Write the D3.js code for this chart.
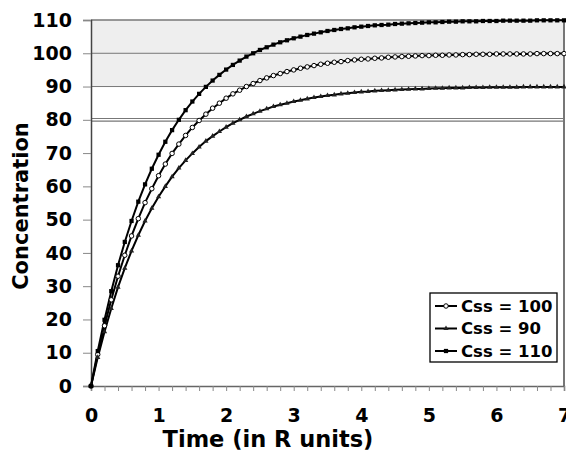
<!DOCTYPE html>
<html>
<head>
<meta charset="utf-8">
<script src="https://cdn.jsdelivr.net/npm/d3@7"></script>
<style>
  body { margin: 0; background: #fff; }
  svg { display: block; font-family: "DejaVu Sans", Verdana, sans-serif; font-weight: bold; }
</style>
</head>
<body>
<script>
const width = 566;
const height = 452;
const margin = { top: 20, right: 2, bottom: 66, left: 91 };
const innerWidth = width - margin.left - margin.right;
const innerHeight = height - margin.top - margin.bottom;

// time points (R units)
const times = [0, 0.1, 0.2, 0.3, 0.4, 0.5, 0.6, 0.7, 0.8, 0.9,
  1, 1.1, 1.2, 1.3, 1.4, 1.5, 1.6, 1.7, 1.8, 1.9,
  2, 2.1, 2.2, 2.3, 2.4, 2.5, 2.6, 2.7, 2.8, 2.9,
  3, 3.1, 3.2, 3.3, 3.4, 3.5, 3.6, 3.7, 3.8, 3.9,
  4, 4.1, 4.2, 4.3, 4.4, 4.5, 4.6, 4.7, 4.8, 4.9,
  5, 5.1, 5.2, 5.3, 5.4, 5.5, 5.6, 5.7, 5.8, 5.9,
  6, 6.1, 6.2, 6.3, 6.4, 6.5, 6.6, 6.7, 6.8, 6.9, 7];

const css100 = [0, 9.5, 18.1, 25.9, 33.0, 39.3, 45.1, 50.3, 55.1, 59.3,
  63.2, 66.7, 69.9, 72.7, 75.3, 77.7, 79.8, 81.7, 83.5, 85.0,
  86.5, 87.8, 88.9, 90.0, 90.9, 91.8, 92.6, 93.3, 93.9, 94.5,
  95.0, 95.5, 95.9, 96.3, 96.7, 97.0, 97.3, 97.5, 97.8, 98.0,
  98.2, 98.3, 98.5, 98.6, 98.8, 98.9, 99.0, 99.1, 99.2, 99.3,
  99.3, 99.4, 99.4, 99.5, 99.5, 99.6, 99.6, 99.7, 99.7, 99.7,
  99.8, 99.8, 99.8, 99.8, 99.8, 99.8, 99.9, 99.9, 99.9, 99.9, 99.9];

const css90 = [0, 8.6, 16.3, 23.3, 29.7, 35.4, 40.6, 45.3, 49.6, 53.4,
  56.9, 60.0, 62.9, 65.5, 67.8, 69.9, 71.8, 73.6, 75.1, 76.5,
  77.8, 79.0, 80.0, 81.0, 81.8, 82.6, 83.3, 84.0, 84.5, 85.0,
  85.5, 85.9, 86.3, 86.7, 87.0, 87.3, 87.5, 87.8, 88.0, 88.2,
  88.4, 88.5, 88.7, 88.8, 88.9, 89.0, 89.1, 89.2, 89.3, 89.3,
  89.4, 89.5, 89.5, 89.6, 89.6, 89.6, 89.7, 89.7, 89.7, 89.8,
  89.8, 89.8, 89.8, 89.8, 89.9, 89.9, 89.9, 89.9, 89.9, 89.9, 89.9];

const css110 = [0, 10.5, 19.9, 28.5, 36.3, 43.3, 49.6, 55.4, 60.6, 65.3,
  69.5, 73.4, 76.9, 80.0, 82.9, 85.5, 87.8, 89.9, 91.8, 93.5,
  95.1, 96.5, 97.8, 99.0, 100.0, 101.0, 101.8, 102.6, 103.3, 103.9,
  104.5, 105.0, 105.5, 105.9, 106.3, 106.7, 107.0, 107.3, 107.5, 107.8,
  108.0, 108.2, 108.4, 108.5, 108.6, 108.8, 108.9, 109.0, 109.1, 109.2,
  109.3, 109.3, 109.4, 109.5, 109.5, 109.6, 109.6, 109.6, 109.7, 109.7,
  109.7, 109.8, 109.8, 109.8, 109.8, 109.8, 109.9, 109.9, 109.9, 109.9, 109.9];

const seriesNames = ["Css = 100", "Css = 90", "Css = 110"];
const xTicks = [0, 1, 2, 3, 4, 5, 6, 7];
const yTicks = [0, 10, 20, 30, 40, 50, 60, 70, 80, 90, 100, 110];
const bandRange = [90, 110]; // shaded target range
const limitLine = 80;

const series = [
  { name: seriesNames[0], values: css100, marker: "circle" },
  { name: seriesNames[1], values: css90, marker: "triangle" },
  { name: seriesNames[2], values: css110, marker: "square" }
];

const xScale = d3.scaleLinear().domain([0, 7]).range([0, 473]);
const yScale = d3.scaleLinear().domain([0, 110]).range([innerHeight, 0]);

const svg = d3.select("body").append("svg")
  .attr("width", width)
  .attr("height", height);

const g = svg.append("g").attr("transform", `translate(${margin.left},${margin.top})`);

// shaded band
g.append("rect")
  .attr("x", 0)
  .attr("y", yScale(bandRange[1]))
  .attr("width", xScale(7))
  .attr("height", yScale(bandRange[0]) - yScale(bandRange[1]))
  .attr("fill", "#eeeeee");

// grid lines at 90, 100
g.selectAll(".grid")
  .data([90, 100])
  .join("line")
  .attr("x1", 0).attr("x2", xScale(7))
  .attr("y1", d => yScale(d)).attr("y2", d => yScale(d))
  .attr("stroke", "#777").attr("stroke-width", 1);

// double line at 80
g.selectAll(".limit")
  .data([-1.3, 1.3])
  .join("line")
  .attr("x1", 0).attr("x2", xScale(7))
  .attr("y1", d => yScale(limitLine) + d).attr("y2", d => yScale(limitLine) + d)
  .attr("stroke", "#777").attr("stroke-width", 1.2);

// plot frame (top, right)
g.append("line")
  .attr("x1", 0).attr("x2", xScale(7))
  .attr("y1", 0).attr("y2", 0)
  .attr("stroke", "#777").attr("stroke-width", 1.5);
g.append("line")
  .attr("x1", xScale(7)).attr("x2", xScale(7))
  .attr("y1", 0).attr("y2", innerHeight)
  .attr("stroke", "#777").attr("stroke-width", 2);

// axes
const xAxisMinor = d3.axisBottom(xScale).tickValues(d3.range(0, 35.5, 1).map(d => d / 5)).tickSize(5).tickFormat("");
g.append("g")
  .attr("transform", `translate(0,${innerHeight})`)
  .call(xAxisMinor)
  .call(a => a.select(".domain").attr("stroke", "#666").attr("stroke-width", 1.5))
  .call(a => a.selectAll(".tick line").attr("stroke", "#888"));

const xAxis = d3.axisBottom(xScale).tickValues(xTicks).tickSize(0).tickPadding(23).tickFormat(d3.format("d"));
g.append("g")
  .attr("transform", `translate(0,${innerHeight})`)
  .call(xAxis)
  .call(a => a.select(".domain").remove())
  .call(a => a.selectAll("text").attr("font-size", 19).attr("font-weight", "bold").attr("fill", "#000")
    .attr("font-family", "DejaVu Sans, Verdana, sans-serif"));

const yAxis = d3.axisLeft(yScale).tickValues(yTicks).tickSize(8).tickPadding(11);
g.append("g")
  .call(yAxis)
  .call(a => a.select(".domain").attr("stroke", "#444").attr("stroke-width", 1.5))
  .call(a => a.selectAll(".tick line").attr("stroke", "#888"))
  .call(a => a.selectAll("text").attr("font-size", 19).attr("font-weight", "bold").attr("fill", "#000")
    .attr("font-family", "DejaVu Sans, Verdana, sans-serif"));

// lines
const line = d3.line()
  .x((d, i) => xScale(times[i]))
  .y(d => yScale(d));

const symbolFor = {
  circle: d3.symbol().type(d3.symbolCircle).size(16),
  triangle: d3.symbol().type(d3.symbolTriangle).size(12),
  square: d3.symbol().type(d3.symbolSquare).size(18)
};
const fillFor = { circle: "#fff", triangle: "#222", square: "#000" };

series.forEach(s => {
  g.append("path")
    .datum(s.values)
    .attr("fill", "none")
    .attr("stroke", "#000")
    .attr("stroke-width", 2)
    .attr("d", line);
});

series.forEach(s => {
  g.append("g").selectAll("path")
    .data(s.values)
    .join("path")
    .attr("transform", (d, i) => `translate(${xScale(times[i])},${yScale(d)})`)
    .attr("d", symbolFor[s.marker]())
    .attr("fill", fillFor[s.marker])
    .attr("stroke", s.marker === "circle" ? "#000" : "none")
    .attr("stroke-width", 1);
});

// legend
const legend = svg.append("g").attr("transform", "translate(430,293)");
legend.append("rect")
  .attr("width", 127).attr("height", 69)
  .attr("fill", "#fff").attr("stroke", "#000").attr("stroke-width", 1.3);

const legendRows = legend.selectAll(".row")
  .data(series)
  .join("g")
  .attr("transform", (d, i) => `translate(0,${13 + i * 22.5})`);
legendRows.append("line")
  .attr("x1", 5).attr("x2", 27)
  .attr("stroke", "#000").attr("stroke-width", 2);
legendRows.append("path")
  .attr("transform", "translate(16,0)")
  .attr("d", d => symbolFor[d.marker]())
  .attr("fill", d => fillFor[d.marker])
  .attr("stroke", d => d.marker === "circle" ? "#000" : "none");
legendRows.append("text")
  .attr("x", 31)
  .attr("dy", "0.36em")
  .attr("font-size", 16.5)
  .text(d => d.name);

// axis titles
svg.append("text")
  .attr("x", 268)
  .attr("y", 447)
  .attr("text-anchor", "middle")
  .attr("font-size", 22.5)
  .text("Time (in R units)");

svg.append("text")
  .attr("transform", "translate(28,206) rotate(-90)")
  .attr("text-anchor", "middle")
  .attr("font-size", 21)
  .text("Concentration");
</script>
</body>
</html>
